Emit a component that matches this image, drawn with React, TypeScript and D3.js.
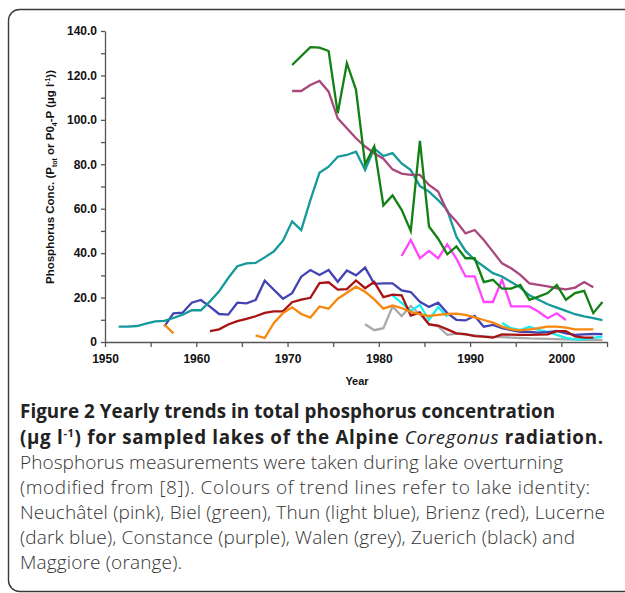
import React, { useEffect, useRef } from "react";
import * as d3 from "d3";

// yearly phosphorus concentration (µg/l), one value per year from the start year
const zuerichStart = 1951;
const zuerich = [6.9, 6.9, 7.2, 8.3, 9.3, 9.5, 10.8, 12.3, 14.3, 14.3, 18.3, 22.8, 28.8, 34.1, 35.4, 35.6, 38.1, 40.8, 45.6, 54.3, 50.4, 63.9, 76.2, 78.9, 83.4, 84.2, 85.7, 77.4, 87.2, 83.7, 85, 80.4, 77.4, 70.2, 67.7, 63.9, 59.4, 47.4, 41, 37, 34, 31, 29.5, 27, 24.5, 21, 19, 17, 15.5, 14, 12.5, 11.5, 10.7, 9.9];

const bielStart = 1970;
const biel = [124.7, null, 132.7, 132.5, 131, 103, 125.5, 113.5, 80, 88, 61.5, 66, 59.5, 50, 90.5, 52, 46.5, 39.5, 43, 37.7, 37.7, 27, 28, 24, 24, 25.7, 19, 20.4, 22, 25.7, 19, 22, 23, 13, 18];

const constanceStart = 1970;
const constance = [113, 113, 115.7, 117.5, 112.7, 100.7, 96.2, 91.7, 88, 85, 82.5, 77.7, 75.8, 75.2, 75.2, 70.7, 67.7, 58.7, 54.2, 48.9, 50.4, 45.9, 40.7, 35.4, 33.2, 30.2, 26.4, 25.7, 25, 24.2, 23.7, 24.5, 27, 24.7];

const neuchatelStart = 1982;
const neuchatel = [38.7, 45.9, 37.7, 41, 37.7, 44, 37.5, 29.5, 29.5, 18, 18, 28, 16, 16, 16, 13.6, 10.7, 12.9, 9.9];

const lucerneStart = 1956;
const lucerne = [7, 12.9, 13.2, 17.7, 18.9, 15.9, 12.6, 12.3, 17.7, 17.4, 18.9, 27.6, 23.5, 19.5, 22, 29.4, 32.4, 30.2, 32.4, 27.1, 32.2, 30, 33.5, 26.2, 26.4, 26.4, 23.2, 22.5, 18.1, 15.8, 17.7, 13, 10, 9.7, 11.7, 6.9, 7.7, 6.2, 5.4, 4.6, 4.6, 4.2, 4.4, 5, 3.9, 3.2, 3.4, 3.6, 3.5];

const brienzStart = 1961;
const brienz = [4.9, 5.7, 7.9, 9.4, 10.4, 11.6, 13.1, 13.8, 13.8, 17.9, 19.1, 19.9, 26.5, 26.9, 23.6, 23.8, 27.7, 24.2, 27.1, 20.2, 21.3, 21, 11.9, 13.3, 7.9, 7.4, 5.7, 3.9, 3.5, 2.6, 2.4, 2, 3.4, 3.3, 3.2, 3.2, 3.3, 3.4, 4.9, 4.9, 2.5, 2, 2];

const maggioreEarlyStart = 1956;
const maggioreEarly = [7.9, 3.9];
const maggioreStart = 1966;
const maggiore = [3, 1.8, 8.6, 13, 15.6, 12.6, 11, 16, 15, 19.5, 22.2, 24.9, 22.6, 19.2, 15, 16.4, 15.3, 13.6, 12.5, 11.7, 12.2, 12.6, 12.8, 12.2, 11.1, 9.9, 8.7, 6.9, 5.7, 5.2, 5.7, 6.2, 6.9, 6.9, 6.5, 5.7, 5.7, 5.7];

const thunEarlyStart = 1981;
const thunEarly = [21, 17.6, 14, 16.7, 9.9, 15.7, 11.4];
const thunStart = 1993;
const thun = [8.6, 6.2, 5.4, 6.9, 5.4, 4.6, 3.2, 1.9, 1.2, 1.2, 1.9, 2.4];

const walenStart = 1978;
const walen = [8, 5.3, 6.2, 16, 11.7, 16.2, 12.5, 8, 7, 3.2, 3.8, 3.3, 3, 2.5, 2.3, 2.2, 2, 1.8, 1.6, 1.5, 1.4, 1.3, 1.2, 1.1, 1, 1, 1];

const yTicks = [0, 10, 20, 30, 40, 50, 60, 70, 80, 90, 100, 110, 120, 130, 140];
const xTicks = [1950, 1955, 1960, 1965, 1970, 1975, 1980, 1985, 1990, 1995, 2000, 2005];

const series = [
  { start: walenStart, values: walen, color: "#a9a9a9" },
  { start: thunEarlyStart, values: thunEarly, color: "#19f0f0" },
  { start: thunStart, values: thun, color: "#19f0f0" },
  { start: lucerneStart, values: lucerne, color: "#4343b3" },
  { start: brienzStart, values: brienz, color: "#a81212" },
  { start: maggioreEarlyStart, values: maggioreEarly, color: "#f7870f" },
  { start: maggioreStart, values: maggiore, color: "#f7870f" },
  { start: neuchatelStart, values: neuchatel, color: "#ff45ff" },
  { start: zuerichStart, values: zuerich, color: "#16999b" },
  { start: constanceStart, values: constance, color: "#a8487c" },
  { start: bielStart, values: biel, color: "#138013" },
];

const captionBody = [
  "Phosphorus measurements were taken during lake overturning",
  "(modified from [8]). Colours of trend lines refer to lake identity:",
  "Neuchâtel (pink), Biel (green), Thun (light blue), Brienz (red), Lucerne",
  "(dark blue), Constance (purple), Walen (grey), Zuerich (black) and",
  "Maggiore (orange).",
];
const captionWidths = [543, 570, 585, 555, 162];

const App = () => {
  const ref = useRef<SVGSVGElement>(null);

  useEffect(() => {
    const svg = d3.select(ref.current);
    svg.selectAll("*").remove();

    const x = d3.scaleLinear().domain([1950, 2005]).range([105, 607]);
    const y = d3.scaleLinear().domain([0, 140]).range([342, 31]);

    // panel border
    svg
      .append("rect")
      .attr("x", 8.5)
      .attr("y", 9.5)
      .attr("width", 660)
      .attr("height", 582)
      .attr("rx", 11)
      .attr("fill", "none")
      .attr("stroke", "#3a3a3a")
      .attr("stroke-width", 1.4);

    // Y axis
    const yAxis = svg
      .append("g")
      .attr("transform", "translate(105,0)")
      .call(
        d3
          .axisLeft(y)
          .tickValues(yTicks)
          .tickSize(4)
          .tickSizeOuter(0)
          .tickPadding(4)
          .tickFormat((v) => ((v as number) % 20 ? "" : v === 0 ? "0" : (v as number).toFixed(1)))
      );
    yAxis.selectAll("path, line").attr("stroke", "#555").attr("stroke-width", 1.3);
    yAxis
      .selectAll("text")
      .attr("font-family", "Liberation Sans, Arial, sans-serif")
      .attr("font-weight", "bold")
      .attr("font-size", 12)
      .attr("fill", "#111");

    // X axis
    const xAxis = svg
      .append("g")
      .attr("transform", "translate(0,342)")
      .call(
        d3
          .axisBottom(x)
          .tickValues(xTicks)
          .tickSize(5)
          .tickSizeOuter(0)
          .tickPadding(7)
          .tickFormat((v) => ((v as number) % 10 ? "" : String(v)))
      );
    xAxis.selectAll("path, line").attr("stroke", "#555").attr("stroke-width", 1.3);
    xAxis
      .selectAll("text")
      .attr("font-family", "Liberation Sans, Arial, sans-serif")
      .attr("font-weight", "bold")
      .attr("font-size", 12)
      .attr("fill", "#111");

    // lines
    const line = d3
      .line<[number, number]>()
      .x((d) => x(d[0] + 0.5))
      .y((d) => y(d[1]));

    series.forEach((s) => {
      const pts = s.values
        .map((v, i) => [s.start + i, v] as [number, number | null])
        .filter((d) => d[1] != null) as [number, number][];
      svg
        .append("path")
        .datum(pts)
        .attr("d", line)
        .attr("fill", "none")
        .attr("stroke", s.color)
        .attr("stroke-width", 2.3)
        .attr("stroke-linejoin", "miter");
    });

    // axis titles
    svg
      .append("text")
      .attr("x", 357)
      .attr("y", 385)
      .attr("text-anchor", "middle")
      .attr("font-family", "Liberation Sans, Arial, sans-serif")
      .attr("font-weight", "bold")
      .attr("font-size", 11)
      .attr("fill", "#111")
      .text("Year");

    const yt = svg
      .append("text")
      .attr("transform", "translate(54,177) rotate(-90)")
      .attr("text-anchor", "middle")
      .attr("font-family", "Liberation Sans, Arial, sans-serif")
      .attr("font-weight", "bold")
      .attr("font-size", 11.5)
      .attr("fill", "#111");
    yt.append("tspan").text("Phosphorus Conc. (P");
    yt.append("tspan").attr("font-size", 7).attr("dy", 3).text("tot");
    yt.append("tspan").attr("dy", -3).text(" or P0");
    yt.append("tspan").attr("font-size", 7).attr("dy", 3).text("4");
    yt.append("tspan").attr("dy", -3).text("-P (µg l");
    yt.append("tspan").attr("font-size", 7).attr("dy", -4).text("-1");
    yt.append("tspan").attr("dy", 4).text("))");

    // caption
    const cap = svg.append("g").attr("font-family", "Open Sans, sans-serif").attr("fill", "#222");
    const l1 = cap
      .append("text")
      .attr("x", 20)
      .attr("y", 418)
      .attr("font-size", 18.8)
      .attr("font-weight", "bold")
      .attr("textLength", 535);
    l1.append("tspan").text("Figure 2 ");
    l1.append("tspan").text("Yearly trends in total phosphorus concentration");

    const l2 = cap
      .append("text")
      .attr("x", 20)
      .attr("y", 444)
      .attr("font-size", 18.8)
      .attr("font-weight", "bold")
      .attr("textLength", 583);
    l2.append("tspan").text("(µg l");
    l2.append("tspan").attr("font-size", 11).attr("dy", -7).text("-1");
    l2.append("tspan").attr("dy", 7).text(") for sampled lakes of the Alpine ");
    l2.append("tspan").attr("font-style", "italic").attr("font-weight", "normal").text("Coregonus");
    l2.append("tspan").text(" radiation.");

    captionBody.forEach((t, i) => {
      cap
        .append("text")
        .attr("x", 20)
        .attr("y", 469 + i * 25)
        .attr("font-size", 19)
        .attr("font-weight", 300)
        .attr("fill", "#333")
        .attr("textLength", captionWidths[i])
        .text(t);
    });
  }, []);

  return (
    <svg
      ref={ref}
      width={625}
      height={593}
      style={{ position: "absolute", left: 0, top: 0, background: "#fff" }}
    />
  );
};

export default App;
